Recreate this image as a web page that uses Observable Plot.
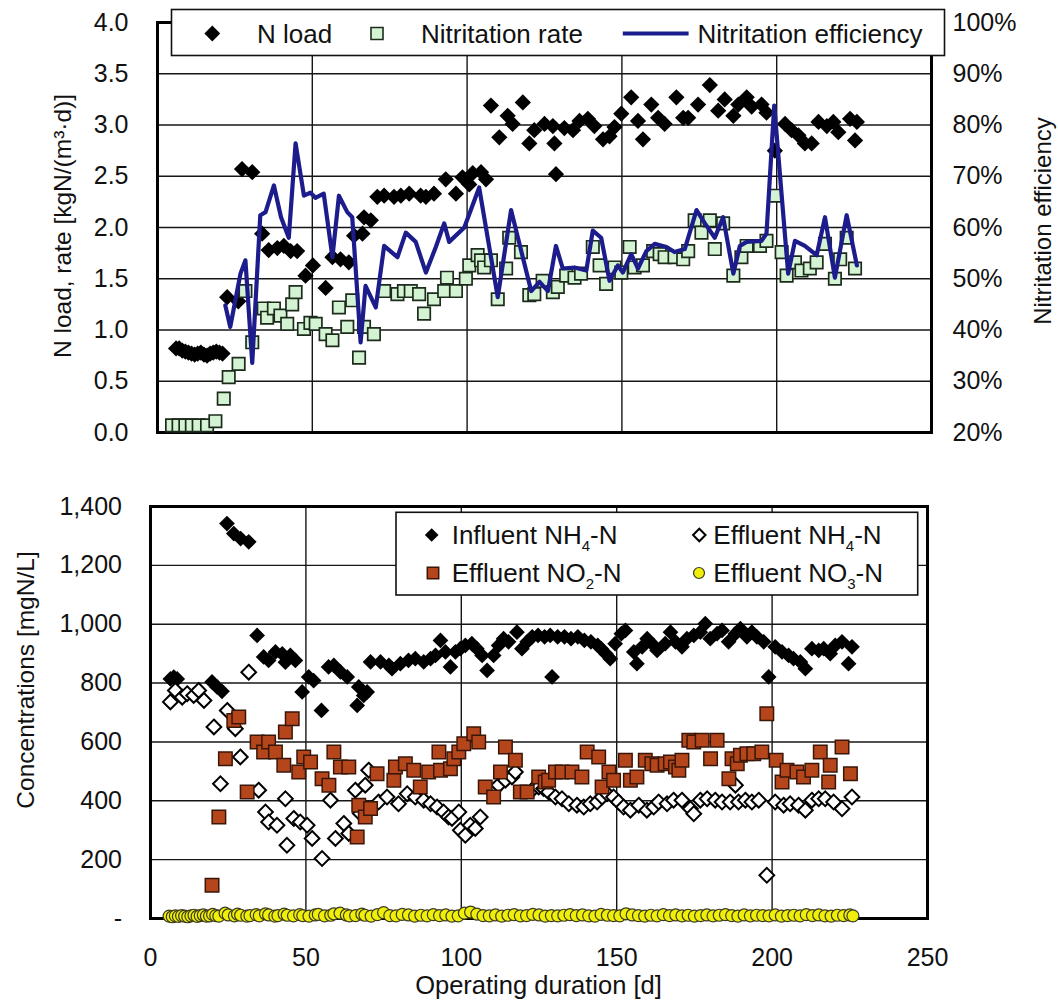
<!DOCTYPE html>
<html>
<head>
<meta charset="utf-8">
<script src="https://cdn.jsdelivr.net/npm/d3@7"></script>
<script src="https://cdn.jsdelivr.net/npm/@observablehq/plot@0.6"></script>
<style>
  html, body { margin: 0; padding: 0; background: #fff; }
  #chart { width: 1058px; height: 1002px; }
  #chart svg { display: block; }
</style>
</head>
<body>
<div id="chart"></div>
<script>
// ---------- tick labels ----------
const loadTicks = [0, 0.5, 1, 1.5, 2, 2.5, 3, 3.5, 4];
const effTickLabels = ["20%", "30%", "40%", "50%", "60%", "70%", "80%", "90%", "100%"];
const concTicks = [0, 200, 400, 600, 800, 1000, 1200, 1400];
const dayTicks = [0, 50, 100, 150, 200, 250];
const gridDays = [50, 100, 150, 200];

// ---------- top panel data: [day, value] ----------
const nLoad = [
  [6,0.82],[7,0.82],[8,0.80],[9,0.79],[10,0.78],[11,0.77],[12,0.76],[13,0.77],[14,0.78],[15,0.76],
  [16,0.75],[17,0.77],[18,0.78],[19,0.79],[20,0.78],[21,0.77],
  [22.5,1.32],[26.1,1.28],[27.3,2.57],[30.6,2.54],[33.8,1.94],[35.9,1.78],[38.7,1.80],[40.8,1.82],[43,1.77],[45.1,1.77],
  [47.8,1.53],[50.2,1.63],[54.3,1.41],[56.5,1.71],[59.1,1.69],[61.8,1.66],[63.5,1.92],[66.2,1.94],[66.7,2.10],[68.9,2.07],
  [71,2.30],[73.2,2.31],[76.4,2.30],[78.6,2.31],[81.3,2.33],[85,2.31],[86.7,2.30],[89.3,2.33],[93.1,2.47],[96.4,2.33],
  [98.5,2.49],[100.7,2.42],[101.8,2.53],[104.5,2.54],[106.1,2.47],[107.7,3.19],[110.4,2.88],[113.1,3.09],[114.7,3.01],[118,3.22],
  [120.1,2.82],[121.7,2.95],[125,3.01],[127.7,2.99],[128.2,2.82],[128.7,2.52],[131.4,2.97],[134.2,2.95],[136.3,3.04],[139,3.06],
  [141.1,2.99],[143.9,2.86],[146,2.89],[147.6,2.98],[149.8,3.11],[153,3.27],[155.2,3.04],[156.8,2.86],[159.5,3.20],[161.7,3.07],
  [163.8,3.01],[167.6,3.27],[169.8,3.07],[171.4,3.07],[174.6,3.20],[178.4,3.39],[181.1,3.14],[183.2,3.25],[186,3.09],[187.6,3.20],
  [190.3,3.27],[191.9,3.18],[195.1,3.20],[196.7,3.12],[199.4,2.75],[202.7,3.01],[204.8,2.95],[207,2.90],[209.1,2.82],[211.3,2.82],
  [213.5,3.03],[216.2,2.99],[218.3,3.03],[219.9,2.93],[223.7,3.06],[225.3,2.85],[225.9,3.03]
];
const nitRate = [
  [4.7,0.07],[6.8,0.07],[9.0,0.07],[11.1,0.07],[13.3,0.07],[16.0,0.07],[18.7,0.11],[21.4,0.33],[23,0.54],[26.2,0.67],
  [28.4,1.38],[30.6,0.88],[34.3,1.21],[35.4,1.12],[37.6,1.21],[39.7,1.14],[41.9,1.06],[43.5,1.25],[44.6,1.37],[47.3,1.01],
  [49.4,1.07],[51.1,1.06],[54.3,0.96],[56.5,0.90],[58.6,1.22],[61.3,1.03],[62.9,1.29],[65.1,0.73],[66.7,1.03],[69.9,0.96],
  [73.2,1.38],[77.5,1.35],[79.6,1.38],[81.8,1.38],[84.5,1.35],[86.1,1.16],[89.3,1.30],[92.6,1.38],[93.5,1.51],[96.4,1.38],
  [99.6,1.50],[100.7,1.63],[103.4,1.73],[104.5,1.68],[105.5,1.61],[107.7,1.68],[109.9,1.30],[112.6,1.60],[113.6,1.90],[117.4,1.76],
  [120.1,1.34],[121.7,1.35],[124.4,1.48],[127.7,1.37],[129.3,1.42],[132,1.53],[134.7,1.51],[136.8,1.55],[140.6,1.81],[142.8,1.63],
  [144.9,1.45],[147.6,1.61],[149.8,1.56],[152.5,1.81],[154.1,1.61],[156.8,1.63],[160.1,1.77],[162.2,1.74],[163.8,1.71],[167,1.71],
  [169.8,1.69],[171.4,1.77],[173.5,2.07],[175.7,1.95],[178.4,2.07],[180,1.79],[182.7,2.04],[186,1.53],[188.6,1.71],[190.3,1.82],
  [194.6,1.82],[196.7,1.87],[199.4,2.31],[201.6,1.76],[203.2,1.53],[205.9,1.66],[208,1.58],[210.7,1.60],[212.9,1.66],[215.6,1.84],
  [218.8,1.50],[220.5,1.69],[222.6,1.90],[225.3,1.60]
];
// nitritation efficiency in percent
const nitEff = [
  [21.9,44.8],[23.5,40.6],[26.8,51],[28.4,53.6],[30.6,33.6],[33.2,62.4],[34.9,63],[37.6,68.2],[39.9,62],[42.4,58],
  [44.6,76.4],[47.3,66.2],[49.4,66.8],[51,65.8],[53.7,66.6],[56.5,54.2],[58.6,66.2],[61.3,63],[62.9,62],[65.6,37.6],
  [67.2,48.6],[70.5,44.4],[73.2,56.4],[77.5,54.2],[80.2,59],[83.4,57.2],[86.7,51.2],[89.9,56.2],[92.6,60.8],[94.2,57.2],
  [99.1,60],[103.9,67.8],[109.9,46.4],[114.2,63.4],[120.7,47.6],[123.4,49.4],[126.1,47.6],[128.7,56.4],[130.9,52],[134.7,52.2],
  [138.5,51.6],[140.6,59.4],[143.3,58],[146,49.6],[148.7,52.6],[150.3,51.2],[153,54.8],[155.2,52],[157.9,55.4],[160.6,56.8],
  [164.4,56.2],[167,55.2],[170.3,55.8],[174.1,63.4],[176.8,60.8],[180,58],[182.7,62],[186,51],[188.1,56.4],[190.3,57.2],
  [195.1,57.4],[196.7,58.8],[199.2,83.8],[203.7,51],[205.9,57.4],[209.1,56.4],[212.9,54.6],[215.6,62],[218.8,50.2],[222.6,62.4],
  [225.9,52.6]
];

// ---------- bottom panel data: [day, mgN/L] ----------
const influentNH4 = [
  [6.4,814],[7.5,820],[8.6,814],[19.8,804],[21.4,787],[23,772],[24.6,1342],[26.8,1308],[29,1291],[31.6,1280],
  [34.3,962],[36.4,889],[38,877],[40.2,906],[42.4,899],[43.4,871],[45,894],[46.6,877],[48.8,770],[50.9,821],
  [52.5,808],[55,707],[57.3,855],[59,860],[61.1,838],[63.3,821],[66.5,724],[67,787],[68.6,758],[69.7,770],
  [70.8,872],[74,872],[76.7,860],[77.7,849],[80.4,866],[83,877],[85.2,883],[87.9,872],[90.1,883],[91.7,894],
  [93.3,945],[94.9,906],[96.5,855],[98.1,906],[99.7,917],[101.3,928],[103.4,934],[105,917],[106.7,894],[108.3,843],
  [110.4,894],[112,928],[113.6,951],[115.2,940],[117.9,973],[119.5,917],[121.2,940],[122.8,957],[124.7,962],[126.8,957],
  [128.6,962],[129.2,821],[131,957],[133.2,957],[135.3,951],[137.5,957],[139.6,945],[141.7,940],[143.9,928],[145,917],
  [146.5,900],[147.9,883],[149.5,934],[151.5,968],[152.8,979],[155.5,906],[156.5,866],[158.2,923],[159.8,951],[161.9,928],
  [163,911],[165.6,934],[167.3,973],[168.9,940],[171,923],[172.6,951],[174.8,962],[176.9,973],[178.5,1002],[180.1,951],
  [182.3,968],[183.9,979],[186,940],[188.2,968],[189.8,985],[191.9,957],[193.5,973],[195.1,957],[197.3,940],[198.9,821],
  [201,923],[203.2,906],[205.3,894],[206.9,883],[209.1,872],[210.7,849],[212.8,917],[215,911],[216.6,917],[218.7,900],
  [220.3,928],[222.5,940],[224.6,866],[225.7,923]
];
const effluentNH4 = [
  [6.4,736],[8,775],[10.2,752],[11.8,764],[13.9,758],[15.5,775],[17.2,741],[20.4,651],[22.5,458],[24.7,707],
  [27.3,645],[28.9,549],[31.6,837],[34.8,436],[37,362],[38,328],[40.7,317],[43.4,407],[43.9,249],[46.1,340],
  [48.2,328],[50.4,317],[52,272],[55.2,204],[57.9,402],[59.5,272],[62.2,323],[63.8,289],[65.9,436],[67.5,357],
  [69.1,453],[70.2,504],[73.4,396],[76.1,413],[79.8,390],[82.6,424],[85.2,413],[87.9,402],[90.1,390],[92.2,379],
  [94.3,362],[95.9,345],[97,340],[99.2,362],[99.7,300],[101.3,283],[102.9,317],[104.5,306],[106.1,345],[110.4,436],
  [112,453],[114.2,470],[116.3,481],[117.4,498],[123.3,442],[124.9,447],[126.5,442],[128.1,430],[130.3,413],[132.4,407],
  [134.6,390],[137.2,385],[139.4,379],[141.5,390],[143.7,396],[145.3,413],[146.9,424],[149,413],[150.6,396],[152.2,379],
  [154.4,368],[157.1,385],[159.7,368],[161.9,379],[163.5,396],[166.2,390],[168.3,402],[171,402],[173.7,373],[174.8,356],
  [176.9,402],[179.1,407],[181.7,402],[183.9,396],[186.5,396],[188.2,453],[189.2,396],[191.4,402],[193.5,396],[195.7,402],
  [198.3,147],[201,396],[203.7,385],[205.8,390],[208.5,385],[210.7,368],[212.8,402],[215,407],[217.1,407],[219.8,396],
  [222.5,373],[225.7,413]
];
const effluentNO2 = [
  [19.8,113],[22,345],[24.1,543],[26.8,673],[28.4,685],[31.1,430],[34.3,600],[36.4,566],[38,600],[40.2,566],
  [42.9,521],[43.4,634],[45.6,679],[47.7,498],[49.3,549],[51.5,532],[55.2,475],[57.4,453],[59,566],[61.1,515],
  [63.8,515],[66.5,277],[67,385],[69.1,345],[70.8,374],[72.9,492],[78.3,470],[78.8,515],[82,526],[84.7,504],
  [86.8,447],[89.5,498],[92.8,566],[93.3,504],[96.5,509],[97.6,543],[99.2,566],[100.8,594],[104,628],[105.6,600],
  [107.7,447],[110.4,413],[112.6,498],[114.2,583],[117.4,538],[119,430],[121.2,430],[124.9,481],[127,464],[128.1,470],
  [130.3,498],[132.4,498],[135.6,498],[138.8,481],[140.5,566],[144.2,549],[145.3,447],[147.5,498],[149,470],[152.8,538],
  [154.4,470],[156.5,481],[159.2,538],[161.3,526],[163,521],[165.6,526],[167.3,532],[168.9,515],[170,504],[171,538],
  [173.2,606],[174.8,600],[177.5,606],[180.2,543],[182.3,606],[186.1,475],[187.1,543],[188.8,526],[189.8,555],[191.9,560],
  [194.1,560],[196.7,566],[198.3,696],[201.3,538],[203.2,464],[204.8,504],[208,498],[210.1,481],[212.8,504],[215.5,566],
  [218.2,464],[218.7,521],[222.5,583],[225.2,492]
];
const effluentNO3 = [
  [6,8],[7,6],[8,9],[9,7],[10,10],[11,8],[12,6],[13,9],[14,11],[15,7],[16,10],[17,12],[18,8],[19,9],[20,14],[21,10],[22,8],
  [24,18],[25,12],[27,9],[28,15],[29,11],[31,8],[32,10],[34,13],[35,9],[37,16],[38,12],[40,8],[41,10],[43,15],[44,11],
  [46,9],[48,13],[49,10],[51,8],[53,12],[54,14],[56,9],[58,11],[59,16],[61,18],[63,12],[64,9],[66,10],[68,15],[69,11],
  [71,8],[73,13],[75,20],[77,10],[79,9],[81,14],[83,12],[85,8],[87,11],[89,9],[91,13],[93,10],[95,12],[97,8],[99,9],
  [101,18],[103,22],[105,15],[107,10],[109,9],[111,12],[113,8],[115,11],[117,13],[119,9],[121,10],[123,14],[125,12],
  [127,8],[129,10],[131,9],[133,11],[135,13],[137,10],[139,12],[141,9],[143,8],[145,14],[147,11],[149,10],[151,9],
  [153,16],[155,12],[157,10],[159,8],[161,11],[163,9],[165,13],[167,10],[169,12],[171,9],[173,11],[175,8],[177,10],
  [179,12],[181,9],[183,11],[185,13],[187,10],[189,8],[191,12],[193,9],[195,11],[197,10],[199,9],[201,12],[203,8],
  [205,10],[207,11],[209,9],[211,13],[213,10],[215,12],[217,9],[219,8],[221,11],[223,10],[225,12],[226,9]
];

// ---------- styling ----------
const FONT = "'Liberation Sans', Arial, Helvetica, sans-serif";
const INK = "#111";
const GRID = "#161616";
const C_RATE = "#d3f3d3", C_RATE_STROKE = "#1d2b1d";
const C_EFF = "#1c1c8c";
const C_NO2 = "#b5451b", C_NO2_STROKE = "#3a1608";
const C_NO3 = "#f0ef0a", C_NO3_STROKE = "#3a3a20";

// square-rotated diamond symbol (Excel style)
const diamond = {
  draw(ctx, size) {
    const h = Math.sqrt(size / Math.PI) * 1.25;
    ctx.moveTo(0, -h); ctx.lineTo(h, 0); ctx.lineTo(0, h); ctx.lineTo(-h, 0); ctx.closePath();
  }
};

const X = d => d[0], Y = d => d[1];
const style = {fontFamily: FONT, fontSize: "25px", color: INK, background: "white", overflow: "visible"};

// ---------- top panel ----------
const topPlot = Plot.plot({
  width: 1058, height: 470,
  marginTop: 22, marginBottom: 38, marginLeft: 157, marginRight: 127,
  x: {domain: [0, 250], axis: null},
  y: {domain: [0, 4]},
  style,
  marks: [
    Plot.ruleY(loadTicks, {stroke: GRID, strokeWidth: 1.4}),
    Plot.ruleX(gridDays, {stroke: GRID, strokeWidth: 1.4}),
    Plot.axisY({ticks: loadTicks, tickSize: 0, tickPadding: 29, tickFormat: d => d.toFixed(1), label: null}),
    Plot.axisY({anchor: "right", ticks: loadTicks, tickSize: 0, tickPadding: 21,
      tickFormat: d => effTickLabels[loadTicks.indexOf(d)], label: null}),
    Plot.frame({stroke: "#000", strokeWidth: 3}),
    Plot.dot(nLoad, {x: X, y: Y, r: 6.5, symbol: diamond, fill: "#000", stroke: "none"}),
    Plot.dot(nitRate, {x: X, y: Y, r: 7, symbol: "square", fill: C_RATE, stroke: C_RATE_STROKE, strokeWidth: 1.7}),
    Plot.line(nitEff, {x: X, y: d => (d[1] - 20) / 20, stroke: C_EFF, strokeWidth: 4.2, strokeLinejoin: "round"})
  ]
});

// ---------- bottom panel ----------
const bottomPlot = Plot.plot({
  width: 1058, height: 532,
  marginTop: 36, marginBottom: 84, marginLeft: 150, marginRight: 131,
  x: {domain: [0, 250]},
  y: {domain: [0, 1400]},
  style,
  marks: [
    Plot.ruleY(concTicks, {stroke: GRID, strokeWidth: 1.4}),
    Plot.ruleX(gridDays, {stroke: GRID, strokeWidth: 1.4}),
    Plot.axisX({ticks: dayTicks, tickSize: 0, tickPadding: 30, tickFormat: d => String(d), label: null}),
    Plot.axisY({ticks: concTicks, tickSize: 0, tickPadding: 28.5,
      tickFormat: d => d === 0 ? "-" : d3.format(",")(d), label: null}),
    Plot.frame({stroke: "#000", strokeWidth: 3}),
    Plot.dot(influentNH4, {x: X, y: Y, r: 6.3, symbol: diamond, fill: "#000", stroke: "none"}),
    Plot.dot(effluentNH4, {x: X, y: Y, r: 5.9, symbol: diamond, fill: "#fff", stroke: "#000", strokeWidth: 2}),
    Plot.dot(effluentNO2, {x: X, y: Y, r: 7.6, symbol: "square", fill: C_NO2, stroke: C_NO2_STROKE, strokeWidth: 1.5}),
    Plot.dot(effluentNO3, {x: X, y: Y, r: 6, fill: C_NO3, stroke: C_NO3_STROKE, strokeWidth: 1.2})
  ]
});

const root = document.getElementById("chart");
root.appendChild(topPlot);
root.appendChild(bottomPlot);

// ---------- helpers for legends & titles ----------
function sym(g, type, size, x, y, attrs) {
  const p = g.append("path").attr("d", d3.symbol().type(type).size(size)()).attr("transform", `translate(${x},${y})`);
  for (const k in attrs) p.attr(k, attrs[k]);
  return p;
}
function label(g, x, y, parts, size) {
  const t = g.append("text").attr("x", x).attr("y", y).attr("dy", "0.35em")
    .attr("text-anchor", "start")
    .attr("font-family", FONT).attr("font-size", size).attr("fill", INK);
  let lowered = false;
  for (const p of parts) {
    if (typeof p === "string") {
      const s = t.append("tspan").text(p);
      if (lowered) { s.attr("dy", -7); lowered = false; }
    } else {
      t.append("tspan").text(p.sub).attr("font-size", 15).attr("dy", 7);
      lowered = true;
    }
  }
  return t;
}
function vtitle(g, x, y, text, size) {
  g.append("text").attr("transform", `translate(${x},${y}) rotate(-90)`)
    .attr("text-anchor", "middle").attr("dy", "0.35em")
    .attr("font-family", FONT).attr("font-size", size).attr("fill", INK).text(text);
}

// top legend & titles
{
  const g = d3.select(topPlot).append("g");
  g.append("rect").attr("x", 171.5).attr("y", 9.5).attr("width", 773).attr("height", 46)
    .attr("fill", "#fff").attr("stroke", "#111").attr("stroke-width", 1.6);
  const cy = 33.5;
  sym(g, diamond, Math.PI * 40, 212.3, cy, {fill: "#000"});
  label(g, 257, cy, ["N load"], 26);
  sym(g, d3.symbolSquare, 144, 377, cy, {fill: C_RATE, stroke: C_RATE_STROKE, "stroke-width": 1.6});
  label(g, 421, cy, ["Nitritation rate"], 26);
  g.append("line").attr("x1", 622.8).attr("x2", 688.6).attr("y1", cy).attr("y2", cy)
    .attr("stroke", C_EFF).attr("stroke-width", 4);
  label(g, 697.5, cy, ["Nitritation efficiency"], 26);
  vtitle(g, 62.5, 226, "N load, rate [kgN/(m³·d)]", 24.5);
  vtitle(g, 1043, 221, "Nitritation efficiency", 24);
}

// bottom legend & titles
{
  const g = d3.select(bottomPlot).append("g");
  g.append("rect").attr("x", 396).attr("y", 42.3).attr("width", 521.7).attr("height", 82.7)
    .attr("fill", "#fff").attr("stroke", "#111").attr("stroke-width", 1.6);
  const r1 = 65, r2 = 103;
  sym(g, diamond, Math.PI * 30, 431.7, r1, {fill: "#000"});
  label(g, 451.7, r1, ["Influent NH", {sub: "4"}, "-N"], 26);
  sym(g, d3.symbolSquare, 130, 433, r2, {fill: C_NO2, stroke: C_NO2_STROKE, "stroke-width": 1.5});
  label(g, 451.7, r2, ["Effluent NO", {sub: "2"}, "-N"], 26);
  sym(g, diamond, Math.PI * 25, 699.3, r1, {fill: "#fff", stroke: "#000", "stroke-width": 2});
  label(g, 713.3, r1, ["Effluent NH", {sub: "4"}, "-N"], 26);
  sym(g, d3.symbolCircle, Math.PI * 30, 699, r2, {fill: C_NO3, stroke: C_NO3_STROKE, "stroke-width": 1.2});
  label(g, 713.3, r2, ["Effluent NO", {sub: "3"}, "-N"], 26);
  vtitle(g, 25, 210, "Concentrations [mgN/L]", 24.5);
  g.append("text").attr("x", 538.5).attr("y", 515).attr("dy", "0.35em").attr("text-anchor", "middle")
    .attr("font-family", FONT).attr("font-size", 25.5).attr("fill", INK).text("Operating duration [d]");
}
</script>
</body>
</html>
